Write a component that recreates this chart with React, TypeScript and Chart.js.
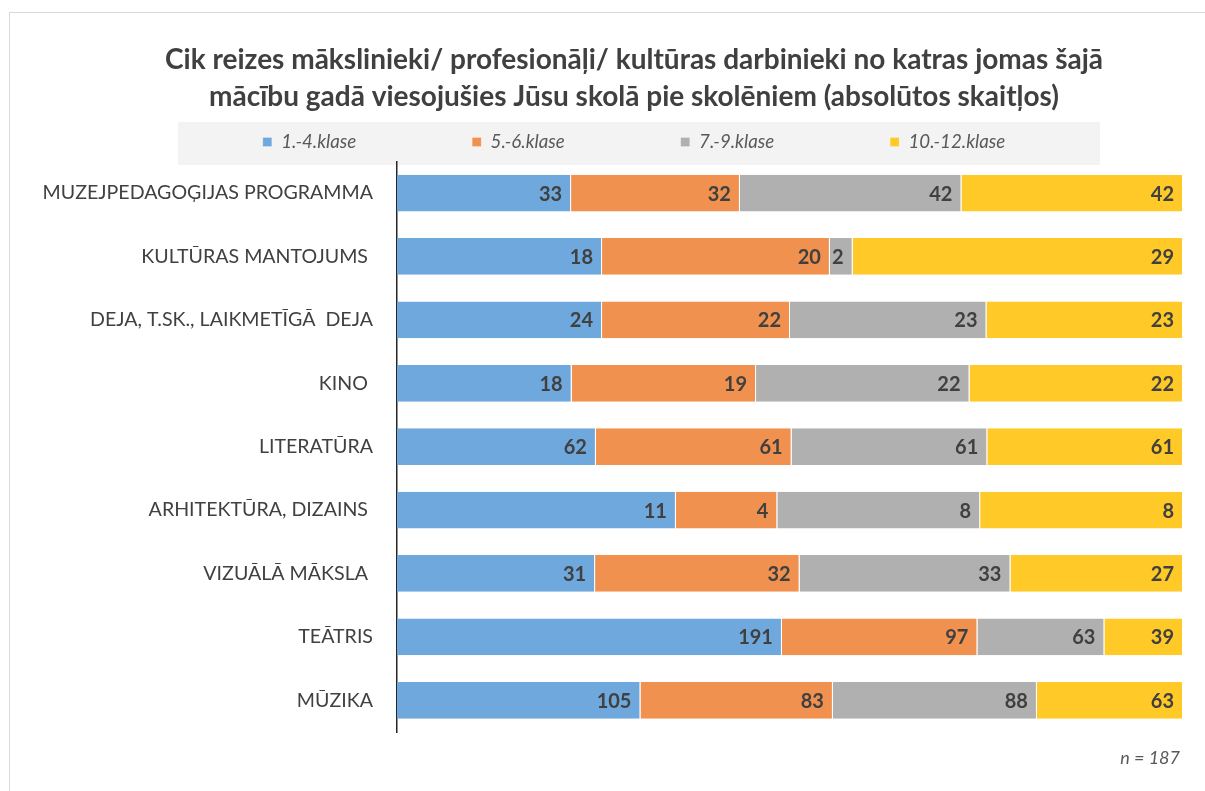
import React, { useEffect, useRef } from "react";
import { Chart, registerables } from "chart.js";

Chart.register(...registerables);

const categories = [
  "MUZEJPEDAGOĢIJAS PROGRAMMA",
  "KULTŪRAS MANTOJUMS ",
  "DEJA, T.SK., LAIKMETĪGĀ  DEJA",
  "KINO ",
  "LITERATŪRA",
  "ARHITEKTŪRA, DIZAINS ",
  "VIZUĀLĀ MĀKSLA ",
  "TEĀTRIS",
  "MŪZIKA",
];

const seriesNames = ["1.-4.klase", "5.-6.klase", "7.-9.klase", "10.-12.klase"];
const seriesColors = ["#6fa8dc", "#f0914f", "#b0b0b0", "#ffc928"];

const grade1to4 = [33, 18, 24, 18, 62, 11, 31, 191, 105];
const grade5to6 = [32, 20, 22, 19, 61, 4, 32, 97, 83];
const grade7to9 = [42, 2, 23, 22, 61, 8, 33, 63, 88];
const grade10to12 = [42, 29, 23, 22, 61, 8, 27, 39, 63];

const titleLines = [
  "Cik reizes mākslinieki/ profesionāļi/ kultūras darbinieki no katras jomas šajā",
  "mācību gadā viesojušies Jūsu skolā pie skolēniem (absolūtos skaitļos)",
];
const noteText = "n = 187";

const FONT = "Lato, 'Open Sans', 'DejaVu Sans', sans-serif";
const LEGEND_PAD = 116;
const LEGEND_FONT = 18.7;

export default function App() {
  const ref = useRef<HTMLCanvasElement | null>(null);

  useEffect(() => {
    document.body.style.margin = "0";
    const canvas = ref.current;
    if (!canvas) return;
    const raw = [grade1to4, grade5to6, grade7to9, grade10to12];
    const totals = categories.map((_, i) => raw.reduce((s, arr) => s + arr[i], 0));

    const framePlugin = {
      id: "frame",
      afterLayout(chart: any) {
        // let long category labels extend left of the padded area
        chart.scales.y.left = 0;
      },
      beforeDraw(chart: any) {
        const ctx = chart.ctx;
        ctx.save();
        ctx.fillStyle = "#ffffff";
        ctx.fillRect(0, 0, chart.width, chart.height);
        ctx.strokeStyle = "#d9d9d9";
        ctx.lineWidth = 1;
        ctx.strokeRect(9.5, 12.5, 1210, 800);
        ctx.fillStyle = "#f3f3f3";
        ctx.fillRect(178, 122, 922, 43);
        ctx.restore();
      },
      afterDraw(chart: any) {
        const ctx = chart.ctx;
        ctx.save();
        ctx.font = `italic 18px ${FONT}`;
        ctx.fillStyle = "#595959";
        ctx.textAlign = "right";
        ctx.textBaseline = "middle";
        ctx.fillText(noteText, 1180, 758);
        ctx.restore();
      },
    };

    const valueLabels = {
      id: "valueLabels",
      afterDatasetsDraw(chart: any) {
        const ctx = chart.ctx;
        ctx.save();
        ctx.font = `bold 20px ${FONT}`;
        ctx.fillStyle = "#404040";
        ctx.textAlign = "right";
        ctx.textBaseline = "middle";
        chart.data.datasets.forEach((ds: any, di: number) => {
          const meta = chart.getDatasetMeta(di);
          meta.data.forEach((bar: any, i: number) => {
            const v = ds.rawValues[i];
            ctx.fillText(String(v), bar.x - 9, bar.y + 1);
          });
        });
        ctx.restore();
      },
    };

    const legendTop = 142 - LEGEND_PAD - LEGEND_FONT / 2;
    const titleTopPad = 41.5;
    const titleLineH = 37;

    const chart = new Chart(canvas, {
      type: "bar",
      data: {
        labels: categories,
        datasets: raw.map((arr, k) => ({
          label: seriesNames[k],
          data: arr.map((v, i) => (v / totals[i]) * 100),
          rawValues: arr,
          backgroundColor: seriesColors[k],
          borderColor: "#ffffff",
          borderWidth: { top: 0, bottom: 0, left: 0, right: 1 },
          borderSkipped: false,
          categoryPercentage: 1,
          barPercentage: 0.58,
        })) as any,
      },
      options: {
        indexAxis: "y",
        responsive: false,
        animation: false,
        devicePixelRatio: 1,
        layout: { padding: { left: 85, right: 22, top: 0, bottom: 59 } },
        plugins: {
          title: {
            display: true,
            text: titleLines,
            color: "#404040",
            font: { family: FONT, size: 28, weight: "bold", lineHeight: titleLineH / 28 },
            padding: { top: titleTopPad, bottom: legendTop - titleTopPad - 2 * titleLineH },
          },
          legend: {
            display: true,
            position: "top",
            labels: {
              boxWidth: 9,
              boxHeight: 9,
              padding: LEGEND_PAD,
              color: "#595959",
              font: { family: FONT, size: LEGEND_FONT, style: "italic" },
            },
          },
          tooltip: { enabled: false },
        },
        scales: {
          x: {
            stacked: true,
            display: false,
            min: 0,
            max: 100,
          },
          y: {
            stacked: true,
            grid: { display: false, drawTicks: false },
            border: { display: true, color: "#262626", width: 1.5 },
            ticks: {
              color: "#404040",
              padding: 24,
              font: { family: FONT, size: 19.6 },
            },
            afterFit: (s: any) => {
              s.width = 397 - 85;
            },
          },
        },
      } as any,
      plugins: [framePlugin, valueLabels],
    });
    return () => chart.destroy();
  }, []);

  return (
    <div style={{ width: 1205, height: 791 }}>
      <canvas ref={ref} width={1205} height={791} />
    </div>
  );
}
